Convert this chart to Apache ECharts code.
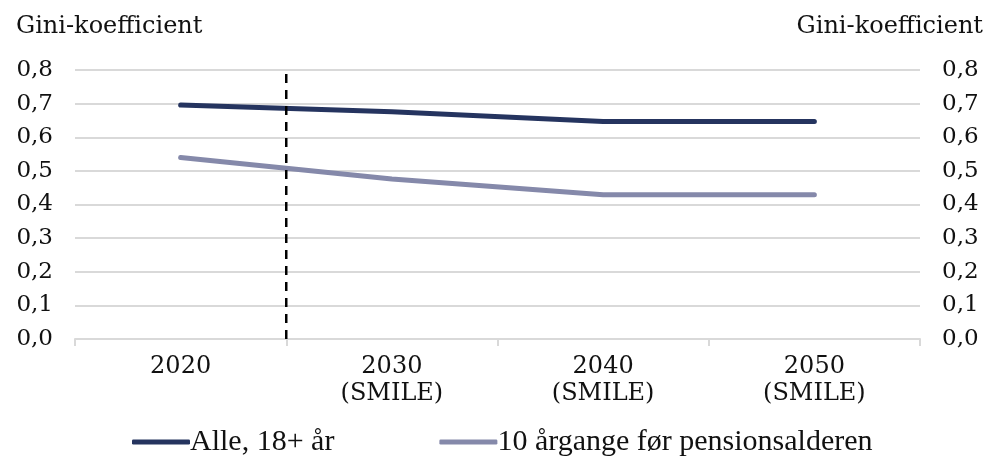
<!DOCTYPE html>
<html>
<head>
<meta charset="utf-8">
<script src="https://cdn.jsdelivr.net/npm/echarts@6/dist/echarts.min.js"></script>
<style>
html,body{margin:0;padding:0;background:#fff;}
#chart{width:992px;height:466px;}
</style>
</head>
<body>
<div id="chart"></div>
<script>
const categories = ['2020', '2030\n(SMILE)', '2040\n(SMILE)', '2050\n(SMILE)'];
const seriesNames = ['Alle, 18+ år', '10 årgange før pensionsalderen'];
const alle = [0.696, 0.676, 0.647, 0.647];
const aargange = [0.540, 0.476, 0.429, 0.429];
const dividerX = [1];            // boundary between 2020 and 2030 (in category units)
const yTicks = [0, 0.1, 0.2, 0.3, 0.4, 0.5, 0.6, 0.7, 0.8];
const axisTitle = 'Gini-koefficient';

const SERIF = '"DejaVu Serif", serif';
const fmt = v => v.toFixed(1).replace('.', ',');

const chart = echarts.init(document.getElementById('chart'), null, {renderer: 'canvas'});
const yMin = yTicks[0], yMax = yTicks[yTicks.length - 1];

const yAxisCommon = {
  type: 'value', min: yMin, max: yMax, interval: 0.1,
  axisLine: {show: false}, axisTick: {show: false},
  splitLine: {show: true, lineStyle: {color: '#d9d9d9', width: 2}},
  axisLabel: {formatter: fmt, color: '#111', fontFamily: SERIF, fontSize: 23, margin: 22}
};

chart.setOption({
  animation: false,
  backgroundColor: '#fff',
  title: [
    {text: axisTitle, left: 11, top: 10, textStyle: {fontFamily: SERIF, fontSize: 24, fontWeight: 'normal', color: '#111'}},
    {text: axisTitle, right: 4, top: 10, textStyle: {fontFamily: SERIF, fontSize: 24, fontWeight: 'normal', color: '#111'}}
  ],
  grid: {left: 75, right: 72, top: 70, bottom: 127, containLabel: false},
  legend: {
    bottom: 4, left: 127,
    itemGap: 105,
    icon: 'roundRect',
    itemWidth: 58, itemHeight: 5,
    textStyle: {fontFamily: '"Liberation Serif", serif', fontSize: 30, color: '#111', padding: [0, 0, 0, -5]},
    data: seriesNames
  },
  xAxis: [
    {
      type: 'category', data: categories, boundaryGap: true,
      axisLine: {show: true, lineStyle: {color: '#d9d9d9', width: 2}},
      axisTick: {show: true, length: 7, lineStyle: {color: '#d9d9d9', width: 2}},
      axisLabel: {color: '#111', fontFamily: SERIF, fontSize: 24, lineHeight: 27, margin: 14},
      splitLine: {show: false}
    },
    {
      type: 'value', min: 0, max: categories.length, show: false
    }
  ],
  yAxis: [
    Object.assign({}, yAxisCommon, {position: 'left'}),
    Object.assign({}, yAxisCommon, {position: 'right', splitLine: {show: false}})
  ],
  series: [
    {
      name: seriesNames[0], type: 'line', data: alle, showSymbol: false, symbol: 'none',
      itemStyle: {color: '#25345f'},
      lineStyle: {color: '#25345f', width: 5, cap: 'round', join: 'round'}, z: 3
    },
    {
      name: seriesNames[1], type: 'line', data: aargange, showSymbol: false, symbol: 'none',
      itemStyle: {color: '#8589aa'},
      lineStyle: {color: '#8589aa', width: 5, cap: 'round', join: 'round'}, z: 3
    },
    {
      name: 'divider', type: 'line', xAxisIndex: 1, yAxisIndex: 0,
      data: [[dividerX[0], yMin], [dividerX[0], yMax]],
      showSymbol: false, symbol: 'none', silent: true,
      lineStyle: {color: '#000', width: 2.5, type: [9, 7]}, z: 4
    }
  ]
});
</script>
</body>
</html>
